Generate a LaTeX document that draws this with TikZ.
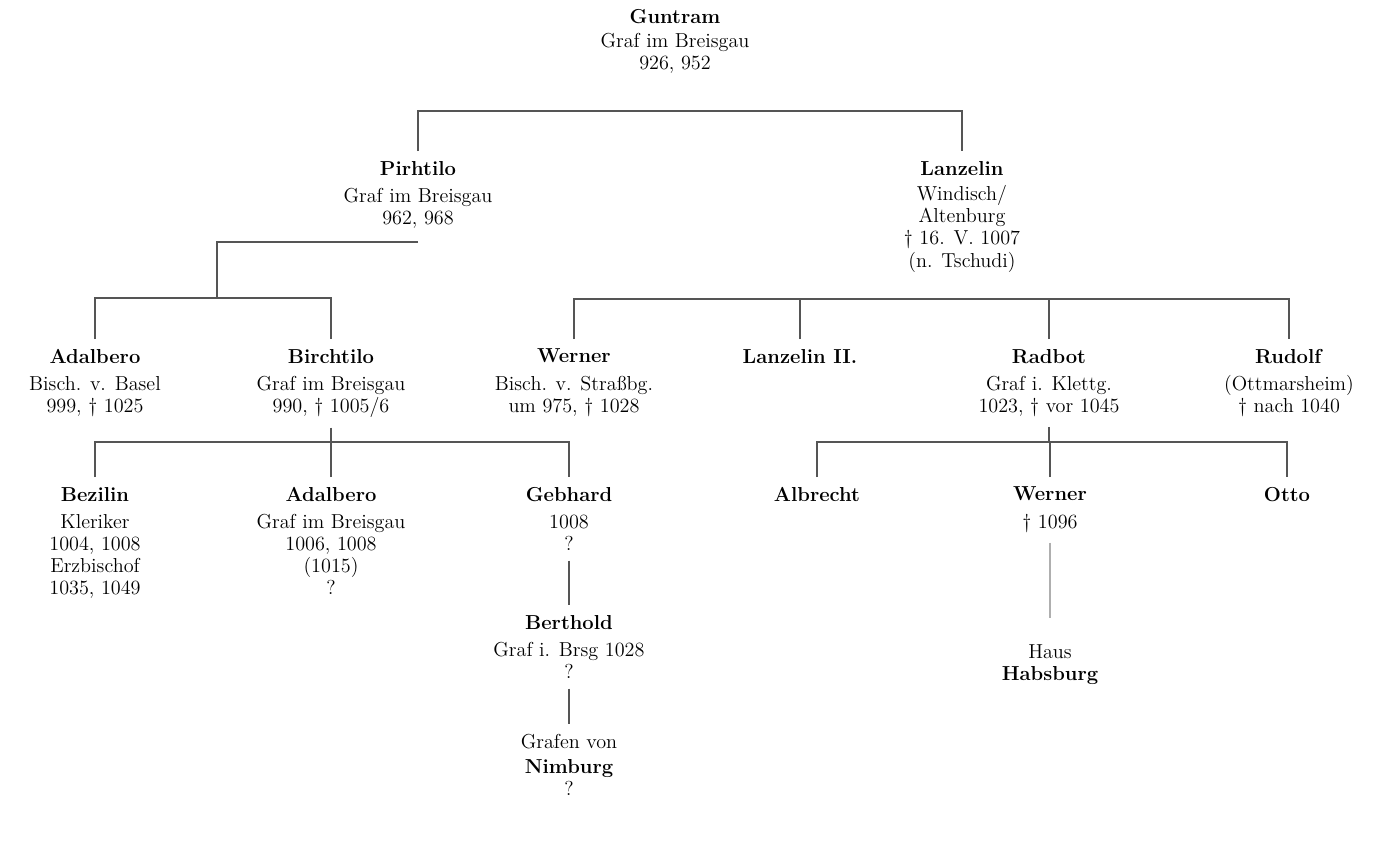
\documentclass[tikz,border=0pt]{standalone}
\usepackage{tikz}
\usetikzlibrary{positioning,calc}
\definecolor{linecol}{RGB}{85,85,85}
\definecolor{faintcol}{RGB}{175,175,175}

\begin{document}
\begin{tikzpicture}[
    x=0.02cm, y=-0.02cm,
    person/.style={anchor=north, align=center, inner xsep=2pt, inner ysep=5.5pt, font=\fontsize{11.5}{12.6}\selectfont},
    link/.style={draw=linecol, line width=0.7pt},
    faintlink/.style={draw=faintcol, line width=0.6pt},
]
\useasboundingbox (0,0) rectangle (1376,840);

\node[person] (guntram) at (675,-1) {\textbf{Guntram}\\[1pt]Graf im Breisgau\\926, 952};
\node[person] (pirhtilo) at (418,151) {\textbf{Pirhtilo}\\[3pt]Graf im Breisgau\\962, 968};
\node[person] (lanzelin) at (962,151) {\textbf{Lanzelin}\\[2pt]Windisch/\\Altenburg\\\textdagger{} 16. V. 1007\\(n. Tschudi)};

\node[person] (adalbero) at (95,339) {\textbf{Adalbero}\\[3pt]Bisch. v. Basel\\999, \textdagger{} 1025};
\node[person] (birchtilo) at (331,339) {\textbf{Birchtilo}\\[3pt]Graf im Breisgau\\990, \textdagger{} 1005/6};
\node[person] (werner) at (574,339) {\textbf{Werner}\\[3pt]Bisch. v. Straßbg.\\um 975, \textdagger{} 1028};
\node[person] (lanzelinII) at (800,339) {\textbf{Lanzelin II.}};
\node[person] (radbot) at (1049,339) {\textbf{Radbot}\\[3pt]Graf i. Klettg.\\1023, \textdagger{} vor 1045};
\node[person] (rudolf) at (1289,339) {\textbf{Rudolf}\\[3pt](Ottmarsheim)\\\textdagger{} nach 1040};

\node[person] (bezilin) at (95,477) {\textbf{Bezilin}\\[3pt]Kleriker\\1004, 1008\\Erzbischof\\1035, 1049};
\node[person] (adalberoII) at (331,477) {\textbf{Adalbero}\\[3pt]Graf im Breisgau\\1006, 1008\\(1015)\\?};
\node[person] (gebhard) at (569,477) {\textbf{Gebhard}\\[3pt]1008\\?};
\node[person] (berthold) at (569,605) {\textbf{Berthold}\\[3pt]Graf i. Brsg 1028\\?};
\node[person] (nimburg) at (569,724) {Grafen von\\[1.5pt]\textbf{Nimburg}\\?};

\node[person] (albrecht) at (817,477) {\textbf{Albrecht}};
\node[person] (wernerII) at (1050,477) {\textbf{Werner}\\[3pt]\textdagger{} 1096};
\node[person] (otto) at (1287,477) {\textbf{Otto}};
\node[person] (habsburg) at (1050,635) {Haus\\\textbf{Habsburg}};

\coordinate (gbar) at (675,111);
\coordinate (pbar) at (217,242);
\coordinate (sbar) at (217,298);
\coordinate (lbar) at (962,299);
\coordinate (bbar) at (331,442);
\coordinate (rbar) at (1049,442);

\draw[link] (pirhtilo.north) |- (gbar) -| (lanzelin.north);

\draw[link] (pbar -| pirhtilo) -- (pbar) -- (sbar);
\draw[link] (adalbero.north) |- (sbar) -| (birchtilo.north);

\draw[link] (werner.north) |- (lbar) -| (rudolf.north);
\draw[link] (lanzelinII.north) -- (lanzelinII.north |- lbar);
\draw[link] (radbot.north) -- (radbot.north |- lbar);

\draw[link] (birchtilo.south) -- (bbar);
\draw[link] (bezilin.north) |- (bbar) -| (gebhard.north);
\draw[link] (adalberoII.north) -- (adalberoII.north |- bbar);
\draw[link] (gebhard) -- (berthold);
\draw[link] (berthold) -- (nimburg);

\draw[link] (radbot.south) -- (rbar);
\draw[link] (albrecht.north) |- (rbar) -| (otto.north);
\draw[link] (wernerII.north) -- (wernerII.north |- rbar);
\draw[faintlink, shorten >=0.35cm] (wernerII) -- (habsburg);
\end{tikzpicture}
\end{document}
